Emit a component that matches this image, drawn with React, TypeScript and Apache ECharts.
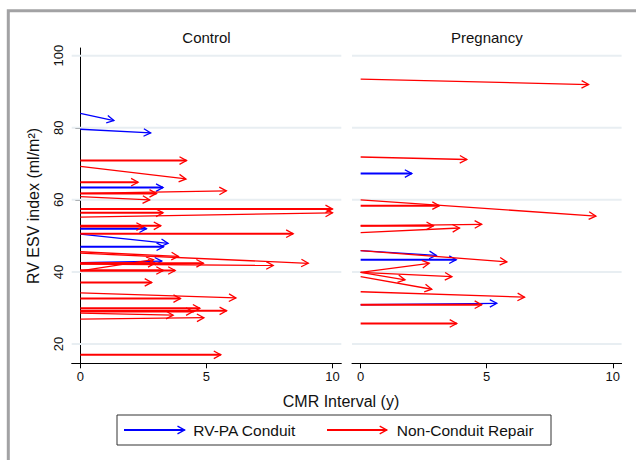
import React, { useEffect, useRef } from "react";
import * as echarts from "echarts";

// Each arrow starts at CMR interval 0: [start RV ESV, end interval (y), end RV ESV]
const controlConduit: number[][] = [
  [84.0, 1.33, 82.0],
  [79.6, 2.79, 78.6],
  [63.4, 3.28, 63.4],
  [52.0, 2.62, 52.0],
  [50.5, 3.48, 47.9],
  [47.0, 3.3, 47.0],
  [42.6, 3.23, 43.0],
];
const controlNonConduit: number[][] = [
  [70.9, 4.21, 70.9],
  [69.3, 4.19, 65.8],
  [64.9, 2.29, 64.9],
  [61.8, 3.02, 61.8],
  [61.8, 5.79, 62.5],
  [60.9, 2.75, 60.0],
  [57.5, 10.0, 57.5],
  [56.4, 3.28, 56.4],
  [55.2, 10.0, 56.4],
  [52.8, 3.19, 52.8],
  [52.6, 2.5, 52.6],
  [50.6, 8.44, 50.6],
  [45.6, 3.89, 44.3],
  [45.2, 9.04, 42.4],
  [42.4, 2.96, 42.4],
  [42.4, 4.88, 42.4],
  [42.2, 7.65, 41.8],
  [40.3, 2.9, 43.4],
  [40.4, 3.29, 40.4],
  [40.4, 3.76, 40.4],
  [37.1, 2.83, 37.1],
  [34.2, 6.17, 32.8],
  [32.6, 3.97, 32.6],
  [29.9, 4.74, 29.9],
  [29.2, 5.8, 29.2],
  [28.6, 3.68, 28.0],
  [29.0, 4.47, 29.0],
  [26.9, 4.9, 27.3],
  [17.0, 5.57, 17.0],
];
const pregnancyConduit: number[][] = [
  [67.3, 2.03, 67.3],
  [45.9, 3.0, 44.6],
  [43.4, 3.79, 43.4],
  [30.9, 5.4, 31.3],
];
const pregnancyNonConduit: number[][] = [
  [93.5, 9.04, 92.0],
  [71.9, 4.21, 71.2],
  [60.0, 9.33, 55.5],
  [58.4, 3.12, 58.4],
  [52.8, 2.89, 52.8],
  [52.8, 4.8, 53.2],
  [50.9, 3.92, 52.2],
  [45.9, 5.8, 42.8],
  [39.9, 2.72, 42.4],
  [39.9, 3.62, 38.7],
  [39.9, 1.76, 37.8],
  [38.7, 2.82, 35.2],
  [34.5, 6.5, 33.0],
  [30.9, 4.8, 30.9],
  [25.7, 3.81, 25.7],
];

const panels = ["Control", "Pregnancy"];
const groups = ["RV-PA Conduit", "Non-Conduit Repair"];
const xTicks = [0, 5, 10];
const yTicks = [20, 40, 60, 80, 100];
const xTitle = "CMR Interval (y)";
const yTitle = "RV ESV index (ml/m²)";

const BLUE = "#0000ff";
const RED = "#ff0000";
const FONT = "'Liberation Sans', Arial, Helvetica, sans-serif";
const TEXT = "#111";

function arrowHead(x: number, y: number, ux: number, uy: number, color: string, lw: number) {
  const hl = 7;
  const hw = 3.8;
  return {
    type: "polyline",
    shape: {
      points: [
        [x - ux * hl - uy * hw, y - uy * hl + ux * hw],
        [x, y],
        [x - ux * hl + uy * hw, y - uy * hl - ux * hw],
      ],
    },
    style: { stroke: color, fill: null, lineWidth: lw },
  };
}

function arrowSeries(name: string, rows: number[][], gridIdx: number, color: string) {
  return {
    type: "custom",
    name,
    xAxisIndex: gridIdx,
    yAxisIndex: gridIdx,
    z: 3,
    data: rows.map((r) => [0, r[0], r[1], r[2]]),
    encode: { x: [0, 2], y: [1, 3] },
    renderItem: (params: any, api: any) => {
      const p0 = api.coord([api.value(0), api.value(1)]);
      const p1 = api.coord([api.value(2), api.value(3)]);
      const dx = p1[0] - p0[0];
      const dy = p1[1] - p0[1];
      const len = Math.hypot(dx, dy) || 1;
      const ux = dx / len;
      const uy = dy / len;
      const lw = api.value(1) === api.value(3) ? 2 : 1.3;
      return {
        type: "group",
        children: [
          {
            type: "line",
            shape: { x1: p0[0], y1: p0[1], x2: p1[0], y2: p1[1] },
            style: { stroke: color, lineWidth: lw },
          },
          arrowHead(p1[0], p1[1], ux, uy, color, 1.3),
        ],
      };
    },
  };
}

function gridLineSeries(gridIdx: number) {
  return {
    type: "custom",
    xAxisIndex: gridIdx,
    yAxisIndex: gridIdx,
    z: 1,
    silent: true,
    data: yTicks.map((v) => [0, v]),
    encode: { x: 0, y: 1 },
    renderItem: (params: any, api: any) => {
      const p = api.coord([0, api.value(1)]);
      const cs = params.coordSys;
      return {
        type: "line",
        shape: { x1: cs.x, y1: p[1], x2: cs.x + cs.width, y2: p[1] },
        style: { stroke: "#e8eef2", lineWidth: 2 },
      };
    },
  };
}

const GRID_TOP = 48;
const GRID_H = 315.3;
const GRID_W = 269.6;
const GRID_LEFTS = [71.7, 352];
const X_MIN = -0.343;
const X_MAX = 10.35;
const Y_MIN = 14.65;
const Y_MAX = 102.14;

function legendArrow(x1: number, x2: number, y: number, color: string) {
  return [
    { type: "line", shape: { x1, y1: y, x2, y2: y }, style: { stroke: color, lineWidth: 2 } },
    arrowHead(x2, y, 1, 0, color, 1.4),
  ];
}

export default function App() {
  const ref = useRef<HTMLDivElement>(null);
  useEffect(() => {
    if (!ref.current) return;
    const chart = echarts.init(ref.current, undefined, { renderer: "svg" });
    const xAxes = [0, 1].map((i) => ({
      type: "value",
      gridIndex: i,
      min: X_MIN,
      max: X_MAX,
      axisLine: { show: true, lineStyle: { color: "#000", width: 1 } },
      axisTick: { show: true, customValues: xTicks, length: 5, lineStyle: { color: "#000" } },
      axisLabel: { show: true, customValues: xTicks, fontSize: 13, color: TEXT, fontFamily: FONT, margin: 7 },
      splitLine: { show: false },
    }));
    const yAxes = [0, 1].map((i) => ({
      type: "value",
      gridIndex: i,
      min: Y_MIN,
      max: Y_MAX,
      show: i === 0,
      axisLine: { show: true, lineStyle: { color: "#000", width: 1 } },
      axisTick: { show: true, customValues: yTicks, length: 5, lineStyle: { color: "#000" } },
      axisLabel: {
        show: true,
        customValues: yTicks,
        rotate: 90,
        fontSize: 13,
        color: TEXT,
        fontFamily: FONT,
        margin: 7,
      },
      splitLine: { show: false },
    }));

    const option: any = {
      animation: false,
      backgroundColor: "#fff",
      textStyle: { fontFamily: FONT },
      grid: GRID_LEFTS.map((l) => ({ left: l, top: GRID_TOP, width: GRID_W, height: GRID_H, containLabel: false })),
      xAxis: xAxes,
      yAxis: yAxes,
      series: [
        gridLineSeries(0),
        gridLineSeries(1),
        arrowSeries(groups[0], controlConduit, 0, BLUE),
        arrowSeries(groups[1], controlNonConduit, 0, RED),
        arrowSeries(groups[0], pregnancyConduit, 1, BLUE),
        arrowSeries(groups[1], pregnancyNonConduit, 1, RED),
      ],
      graphic: [
        {
          type: "rect",
          silent: true,
          shape: { x: 8.3, y: 10.8, width: 700, height: 500 },
          style: { fill: null, stroke: "#a2a2a4", lineWidth: 3 },
        },
        ...panels.map((p, i) => ({
          type: "text",
          x: GRID_LEFTS[i] + GRID_W / 2,
          y: 37,
          style: { text: p, fontSize: 15, fontFamily: FONT, fill: TEXT, textAlign: "center", textVerticalAlign: "middle" },
        })),
        {
          type: "text",
          x: 341,
          y: 401,
          style: { text: xTitle, fontSize: 16, fontFamily: FONT, fill: TEXT, textAlign: "center", textVerticalAlign: "middle" },
        },
        {
          type: "text",
          x: 33,
          y: 206,
          rotation: Math.PI / 2,
          style: { text: yTitle, fontSize: 16, fontFamily: FONT, fill: TEXT, textAlign: "center", textVerticalAlign: "middle" },
        },
        {
          type: "rect",
          shape: { x: 117, y: 415, width: 434, height: 30 },
          style: { fill: "#fff", stroke: "#333", lineWidth: 1 },
        },
        ...legendArrow(124, 184.5, 430, BLUE),
        {
          type: "text",
          x: 193.3,
          y: 430,
          style: { text: groups[0], fontSize: 15.5, fontFamily: FONT, fill: TEXT, textAlign: "left", textVerticalAlign: "middle" },
        },
        ...legendArrow(327, 386.7, 430, RED),
        {
          type: "text",
          x: 396.7,
          y: 430,
          style: { text: groups[1], fontSize: 15.5, fontFamily: FONT, fill: TEXT, textAlign: "left", textVerticalAlign: "middle" },
        },
      ],
    };
    chart.setOption(option);
    return () => chart.dispose();
  }, []);
  return (
    <div
      ref={ref}
      style={{ position: "absolute", left: 0, top: 0, width: 636, height: 460 }}
    />
  );
}
